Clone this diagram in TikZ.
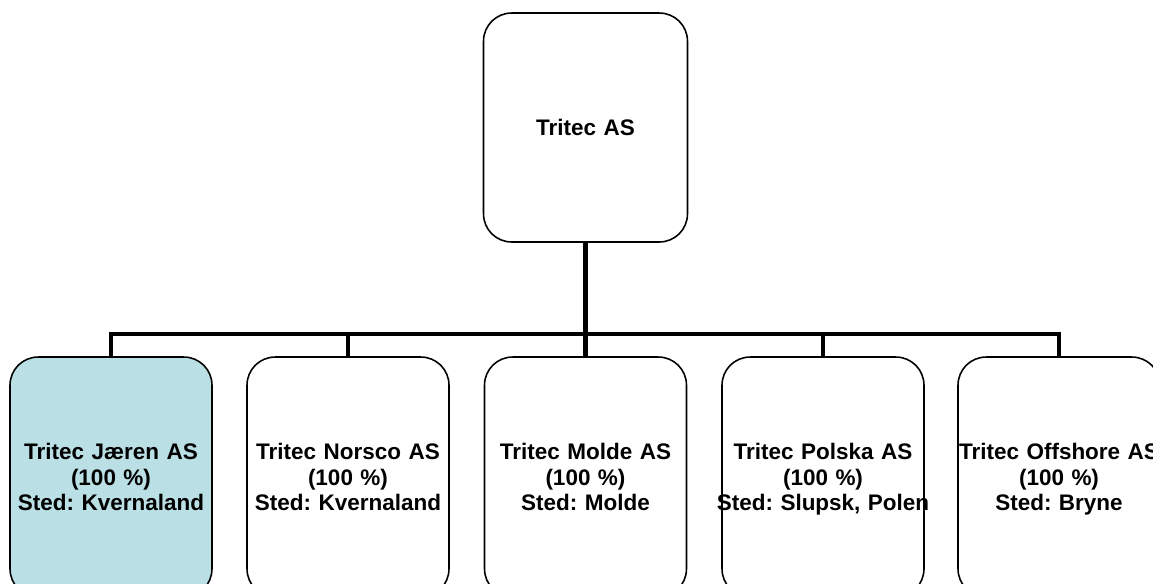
\documentclass[tikz,border=0pt]{standalone}
\usepackage{fontspec}
\setmainfont{Liberation Sans}
\frenchspacing
\definecolor{jaerenblue}{RGB}{186,223,228}
\tikzstyle{bS}=[rectangle,rounded corners=16pt,draw,line width=0.9pt,text width=4.04cm,text depth=29.2pt,minimum height=4.8cm,inner sep=0pt,font=\fontsize{12.8}{14.6}\selectfont\bfseries,align=center]
\tikzstyle{tS}=[bS,text width=4.08cm,text depth=0pt,minimum height=4.58cm]
\tikzstyle{eS}=[line width=2.8pt]
\begin{document}
\begin{tikzpicture}[x=0.02cm,y=-0.02cm]
    \useasboundingbox (0,0) rectangle (1153,583);
    \draw (585.5,127.5) node[tS] (tas) {Tritec AS};
    \draw (111,477) node[bS,fill=jaerenblue] (jaeren) {Tritec Jæren AS\\(100 \%)\\Sted: Kvernaland};
    \draw (348,477) node[bS] (norsco) {Tritec Norsco AS\\(100 \%)\\Sted: Kvernaland};
    \draw (585.5,477) node[bS] (molde) {Tritec Molde AS\\(100 \%)\\Sted: Molde};
    \draw (823,477) node[bS] (polska) {Tritec Polska AS\\(100 \%)\\\makebox[\linewidth][c]{Sted: Slupsk, Polen}};
    \draw (1059,477) node[bS] (offshore) {Tritec Offshore AS\\(100 \%)\\Sted: Bryne};
    \coordinate (bus) at (585.5,334);
    \draw[eS] (tas.south) -- (bus);
    \draw[eS] (bus) -| (jaeren.north);
    \draw[eS] (bus) -| (norsco.north);
    \draw[eS] (bus) -- (molde.north);
    \draw[eS] (bus) -| (polska.north);
    \draw[eS] (bus) -| (offshore.north);
\end{tikzpicture}
\end{document}
